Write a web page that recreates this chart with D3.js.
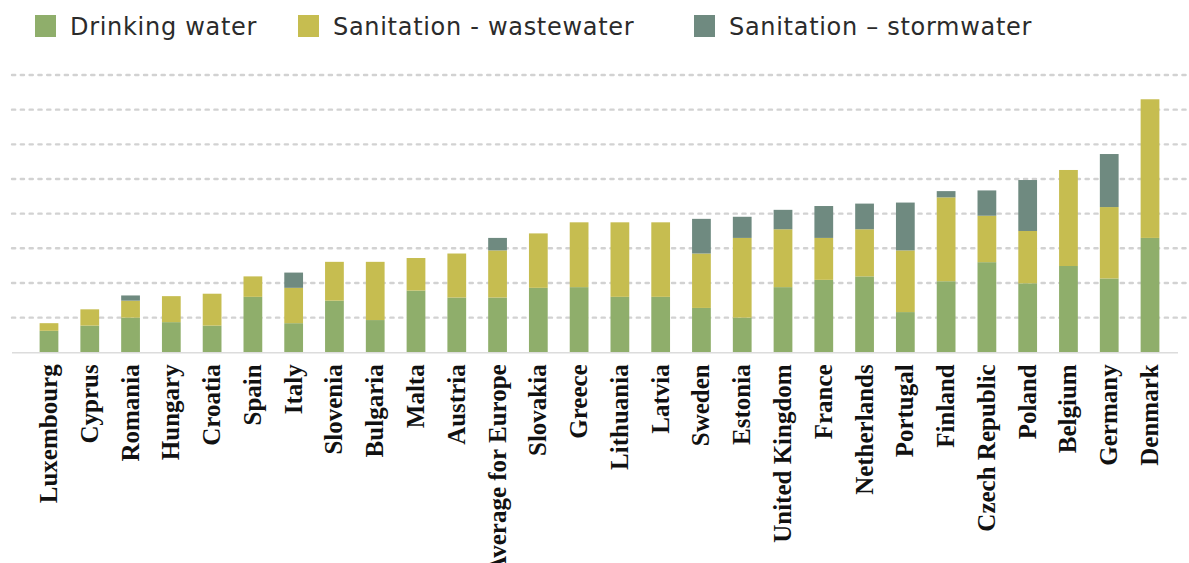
<!DOCTYPE html>
<html>
<head>
<meta charset="utf-8">
<script src="https://cdn.jsdelivr.net/npm/d3@7"></script>
<style>
  html, body { margin: 0; padding: 0; background: #ffffff; }
  svg { display: block; }
</style>
</head>
<body>
<svg id="chart" width="1189" height="563"></svg>
<script>
// Countries, sorted by total cost
const countries = [
  "Luxembourg", "Cyprus", "Romania", "Hungary", "Croatia", "Spain", "Italy",
  "Slovenia", "Bulgaria", "Malta", "Austria", "Average for Europe", "Slovakia",
  "Greece", "Lithuania", "Latvia", "Sweden", "Estonia", "United Kingdom",
  "France", "Netherlands", "Portugal", "Finland", "Czech Republic", "Poland",
  "Belgium", "Germany", "Denmark"
];

// Cost components per country
const drinkingWater = [
  0.62, 0.77, 1.00, 0.87, 0.77, 1.60, 0.84, 1.49, 0.93, 1.78, 1.58, 1.58, 1.86,
  1.88, 1.60, 1.60, 1.28, 1.00, 1.88, 2.09, 2.19, 1.16, 2.05, 2.60, 1.99,
  2.49, 2.13, 3.30
];
const wastewater = [
  0.22, 0.47, 0.49, 0.75, 0.92, 0.59, 1.02, 1.12, 1.68, 0.94, 1.27, 1.36, 1.57,
  1.87, 2.15, 2.15, 1.57, 2.30, 1.67, 1.21, 1.36, 1.78, 2.42, 1.34, 1.51,
  2.77, 2.06, 4.00
];
const stormwater = [
  0.00, 0.00, 0.15, 0.00, 0.00, 0.00, 0.44, 0.00, 0.00, 0.00, 0.00, 0.36, 0.00,
  0.00, 0.00, 0.00, 1.00, 0.61, 0.56, 0.92, 0.74, 1.38, 0.18, 0.73, 1.47,
  0.00, 1.53, 0.00
];

const seriesNames = ["Drinking water", "Sanitation - wastewater", "Sanitation \u2013 stormwater"];
const seriesKeys = ["drinking", "wastewater", "stormwater"];
const gridTicks = [1, 2, 3, 4, 5, 6, 7, 8];

const colors = d3.scaleOrdinal()
  .domain(seriesKeys)
  .range(["#8fae6b", "#c6bd50", "#6f8a80"]);

const rows = countries.map((c, i) => ({
  country: c,
  drinking: drinkingWater[i],
  wastewater: wastewater[i],
  stormwater: stormwater[i]
}));

const svg = d3.select("#chart");

const x = d3.scaleBand()
  .domain(countries)
  .range([28.6, 1170.4])
  .paddingInner(0.54)
  .paddingOuter(0.27);

const y = d3.scaleLinear()
  .domain([0, 8])
  .range([352.3, 75]);

// Dotted gridlines
svg.append("g")
  .selectAll("line")
  .data(gridTicks)
  .join("line")
  .attr("x1", 12)
  .attr("x2", 1189)
  .attr("y1", d => y(d))
  .attr("y2", d => y(d))
  .attr("stroke", "#d2d2d2")
  .attr("stroke-width", 2.4)
  .attr("stroke-linecap", "round")
  .attr("stroke-dasharray", "3.2,5.6");

// Stacked bars
const stack = d3.stack().keys(seriesKeys);
const layers = stack(rows);

svg.append("g")
  .selectAll("g")
  .data(layers)
  .join("g")
  .attr("fill", d => colors(d.key))
  .selectAll("rect")
  .data(d => d.filter(p => p[1] - p[0] > 0))
  .join("rect")
  .attr("x", d => x(d.data.country))
  .attr("width", x.bandwidth())
  .attr("y", d => y(d[1]))
  .attr("height", d => y(d[0]) - y(d[1]));

// Baseline
svg.append("line")
  .attr("x1", 12)
  .attr("x2", 1178)
  .attr("y1", y(0) + 0.5)
  .attr("y2", y(0) + 0.5)
  .attr("stroke", "#dcdcdc")
  .attr("stroke-width", 1.5);

// Category labels
const xAxis = svg.append("g")
  .attr("transform", `translate(0, ${y(0)})`)
  .call(d3.axisBottom(x).tickSize(0).tickPadding(0));
xAxis.select(".domain").remove();
xAxis.selectAll("text")
  .attr("transform", "rotate(-90)")
  .attr("x", -12)
  .attr("y", 0)
  .attr("dy", "0.32em")
  .attr("text-anchor", "end")
  .attr("fill", "#111")
  .style("font-family", "'Liberation Serif', 'Times New Roman', serif")
  .style("font-weight", "bold")
  .style("font-size", "25px");

// Legend
const legendX = [35, 298, 694];
const legend = svg.append("g")
  .selectAll("g")
  .data(seriesKeys)
  .join("g")
  .attr("transform", (d, i) => `translate(${legendX[i]}, 15)`);
legend.append("rect")
  .attr("width", 21)
  .attr("height", 22)
  .attr("fill", d => colors(d));
legend.append("text")
  .attr("x", 35)
  .attr("y", 11)
  .attr("dy", "0.36em")
  .attr("fill", "#2b2b2b")
  .style("font-family", "'DejaVu Sans', sans-serif")
  .style("font-size", "24px")
  .style("letter-spacing", "0.7px")
  .text((d, i) => seriesNames[i]);
</script>
</body>
</html>
